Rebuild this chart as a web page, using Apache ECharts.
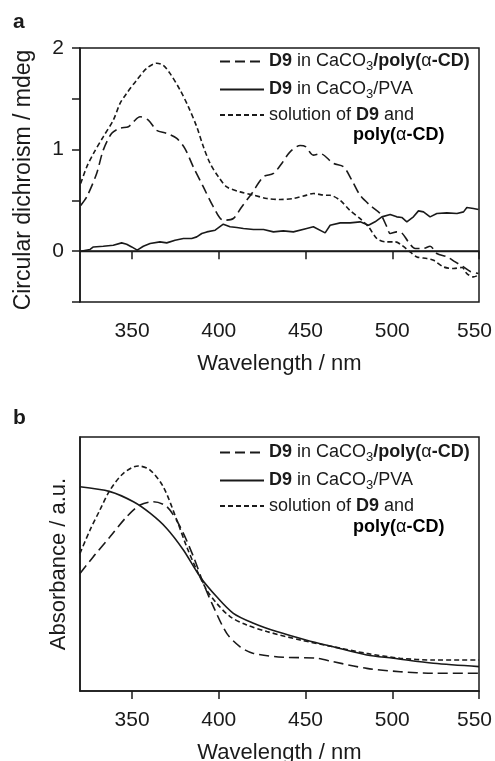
<!DOCTYPE html>
<html>
<head>
<meta charset="utf-8">
<script src="https://cdn.jsdelivr.net/npm/echarts@6/dist/echarts.min.js"></script>
<style>
html,body{margin:0;padding:0;background:#fff;}
#chart{width:495px;height:761px;}
</style>
</head>
<body>
<div id="chart"></div>
<script>
// ---------- DATA ----------
const seriesNames = ['D9 in CaCO3/poly(α-CD)', 'D9 in CaCO3/PVA', 'solution of D9 and poly(α-CD)'];
const xTicks = [350, 400, 450, 500, 550];

// Panel a: circular dichroism (mdeg)
const cdPolyWl = [320.4,323.9,329.6,333.4,338.3,343,347.9,350.8,354.6,359.4,364.2,370,375.8,380.5,385.3,391.1,396.9,402.6,408.4,413.2,419,425.7,431.5,436.3,441.1,446.9,450,454.5,458.4,466.1,471.9,476.7,481.5,487.3,493,496.9,498.8,502.6,505.5,509.3,513.2,518,521.8,525.7,531.5,536.3,541.1,545,549.7];
const cdPolyVal = [0.45,0.535,0.765,0.995,1.16,1.21,1.225,1.274,1.323,1.29,1.19,1.16,1.11,1.01,0.83,0.633,0.436,0.305,0.322,0.436,0.568,0.732,0.765,0.864,0.978,1.04,1.03,0.946,0.96,0.864,0.83,0.70,0.55,0.45,0.37,0.24,0.174,0.19,0.18,0.092,0.027,0.027,0.049,-0.023,-0.056,-0.105,-0.155,-0.2,-0.22];

const cdPvaWl = [320.4,325.8,327.7,333.4,339.2,344,346.9,349.8,353,356.5,360.4,366.1,370,374.8,379.6,384.4,387.3,390.2,393.1,397.9,402.6,406.5,410.4,414.2,420,425.8,431.5,437.2,443,450.7,454.5,461.3,464.2,470,475.7,481.5,486.3,490.1,494,498.8,502.6,505.5,508.4,512.2,515.1,518,521.8,525.7,531.5,537.3,541.1,543,546.8,549.7];
const cdPvaVal = [0.0,0.017,0.042,0.049,0.059,0.082,0.069,0.042,0.01,0.049,0.076,0.092,0.082,0.108,0.125,0.125,0.141,0.174,0.19,0.207,0.266,0.24,0.233,0.224,0.214,0.214,0.19,0.2,0.19,0.224,0.24,0.18,0.256,0.279,0.279,0.289,0.256,0.289,0.338,0.362,0.338,0.332,0.289,0.338,0.397,0.387,0.338,0.371,0.377,0.371,0.387,0.43,0.42,0.41];

const cdSolWl = [320.4,323.9,327.7,333.4,339.2,343.1,346.9,352.7,358.5,364.2,368,371.9,377.7,382.5,387.3,391.1,395,399.8,404.6,412.3,420,427.7,435.3,443,450.7,454.5,460.3,464.2,470,475.7,481.5,486.3,491.1,495.9,501.7,505.5,510.3,514.2,520,523.8,529.6,535.4,540.2,543,546.8,549.7];
const cdSolVal = [0.667,0.83,0.96,1.126,1.29,1.455,1.554,1.685,1.8,1.85,1.83,1.75,1.586,1.42,1.225,1.03,0.864,0.732,0.633,0.584,0.552,0.519,0.509,0.519,0.552,0.568,0.552,0.55,0.50,0.40,0.32,0.24,0.125,0.092,0.092,0.059,-0.007,-0.056,-0.072,-0.089,-0.155,-0.17,-0.16,-0.22,-0.253,-0.236];

// Panel b: absorbance (a.u.)
const absPolyWl = [320,327.7,337.3,346.9,354.6,362.3,370,377.7,385.4,391.1,396.9,404.6,412.3,420,437.3,456.5,466.1,485.3,504.5,523.7,550];
const absPolyVal = [0.463,0.529,0.607,0.686,0.732,0.745,0.726,0.647,0.529,0.424,0.332,0.227,0.174,0.148,0.133,0.129,0.115,0.089,0.076,0.07,0.07];

const absPvaWl = [320,337.3,350.8,360.4,370,379.6,389.2,398.8,408.4,420,433.4,450.7,466,485.3,500.7,523.7,550];
const absPvaVal = [0.804,0.785,0.745,0.70,0.64,0.555,0.45,0.371,0.306,0.267,0.234,0.20,0.174,0.142,0.129,0.109,0.096];

const absSolWl = [320,325.8,331.5,337.3,345,353.6,360.4,368,375.8,381.5,387.3,393,398.8,406.5,416.1,427.7,446.9,466.1,485.3,504.5,523.7,550];
const absSolVal = [0.542,0.634,0.713,0.791,0.857,0.886,0.87,0.804,0.673,0.568,0.476,0.398,0.345,0.293,0.26,0.234,0.201,0.174,0.148,0.129,0.122,0.122];

// ---------- CHART ----------
const FONT = '"Liberation Sans", Arial, sans-serif';
const INK = '#1a1a1a';
const pair = (xs, ys) => xs.map((x, i) => [x, ys[i]]);

const lineStyles = [
  {color: INK, width: 1.6, type: [10, 5]},
  {color: INK, width: 1.6, type: 'solid'},
  {color: INK, width: 1.6, type: [5, 3]}
];

const rich = {
  n: {fontSize: 18, fontFamily: FONT, color: INK, lineHeight: 20},
  b: {fontSize: 18, fontFamily: FONT, color: INK, fontWeight: 'bold', lineHeight: 20},
  g: {fontSize: 18, fontFamily: FONT, color: INK, lineHeight: 20},
  s: {fontSize: 13, fontFamily: FONT, color: INK, lineHeight: 13, padding: [10, 0, 0, 0]}
};
const legendLabel = {};
legendLabel[seriesNames[0]] = '{b|D9}{n| in CaCO}{s|3}{b|/poly(}{g|α}{b|-CD)}';
legendLabel[seriesNames[1]] = '{b|D9}{n| in CaCO}{s|3}{n|/PVA}';
legendLabel[seriesNames[2]] = '{n|solution of }{b|D9}{n| and}';

function makeLegend(top) {
  return {
    orient: 'vertical', left: 219, top: top, padding: 0, itemWidth: 44, itemHeight: 14, itemGap: 5,
    data: seriesNames, selectedMode: false,
    itemStyle: {opacity: 0},
    formatter: name => legendLabel[name],
    textStyle: {fontSize: 18, fontFamily: FONT, color: INK, rich: rich}
  };
}

function xAxis(gridIndex, labelMargin, nameGap) {
  return {
    gridIndex: gridIndex, type: 'value', min: 320, max: 550,
    axisLine: {show: true, lineStyle: {color: INK, width: 1.5}},
    axisTick: {show: true, length: 8, customValues: xTicks, lineStyle: {color: INK, width: 1.5}},
    axisLabel: {customValues: xTicks, fontSize: 21, fontFamily: FONT, color: INK, margin: labelMargin,
      formatter: v => v === 550 ? '{r|550}' : String(v),
      rich: {r: {fontSize: 21, fontFamily: FONT, color: INK, padding: [0, 9, 0, 0]}}},
    splitLine: {show: false},
    name: 'Wavelength / nm', nameLocation: 'middle', nameGap: nameGap,
    nameTextStyle: {fontSize: 22, fontFamily: FONT, color: INK}
  };
}

function mkSeries(name, data, idx, xi, yi, extra) {
  return Object.assign({
    name: name, type: 'line', xAxisIndex: xi, yAxisIndex: yi, data: data,
    showSymbol: false, symbol: 'none', smooth: 0.3, lineStyle: lineStyles[idx],
    itemStyle: {color: INK}, animation: false, z: 3
  }, extra || {});
}

const chart = echarts.init(document.getElementById('chart'), null, {renderer: 'canvas'});
chart.setOption({
  backgroundColor: '#fff',
  animation: false,
  grid: [
    {left: 80, top: 48, width: 399, height: 254, show: true, borderColor: INK, borderWidth: 1.5, containLabel: false, outerBoundsMode: 'none'},
    {left: 80, top: 437, width: 399, height: 254, show: true, borderColor: INK, borderWidth: 1.5, containLabel: false, outerBoundsMode: 'none'}
  ],
  legend: [makeLegend(50), makeLegend(441)],
  xAxis: [xAxis(0, 19, 51), xAxis(1, 19, 51)],
  yAxis: [
    {
      gridIndex: 0, type: 'value', min: -0.5, max: 2, interval: 0.5,
      axisLine: {show: true, lineStyle: {color: INK, width: 1.5}},
      axisTick: {show: true, length: 8, lineStyle: {color: INK, width: 1.5}},
      axisLabel: {fontSize: 21, fontFamily: FONT, color: INK, margin: 16,
        formatter: v => (Math.abs(v - Math.round(v)) < 1e-9 && v >= 0) ? String(Math.round(v)) : ''},
      splitLine: {show: false},
      name: 'Circular dichroism / mdeg', nameLocation: 'middle', nameGap: 45,
      nameTextStyle: {fontSize: 23, fontFamily: FONT, color: INK, padding: [0, 10, 0, 0]}
    },
    {
      gridIndex: 1, type: 'value', min: 0, max: 1,
      axisLine: {show: true, lineStyle: {color: INK, width: 1.5}},
      axisTick: {show: false}, axisLabel: {show: false}, splitLine: {show: false},
      name: 'Absorbance / a.u.', nameLocation: 'middle', nameGap: 10,
      nameTextStyle: {fontSize: 22, fontFamily: FONT, color: INK}
    }
  ],
  graphic: [
    {type: 'text', left: 13, top: 12, style: {text: 'a', font: 'bold 21px ' + FONT, fill: INK}},
    {type: 'text', left: 13, top: 408, style: {text: 'b', font: 'bold 21px ' + FONT, fill: INK}},
    {type: 'text', left: 353, top: 126, style: {text: '{b|poly(}{g|α}{b|-CD)}', rich: rich}},
    {type: 'text', left: 353, top: 518, style: {text: '{b|poly(}{g|α}{b|-CD)}', rich: rich}}
  ],
  series: [
    mkSeries(seriesNames[0], pair(cdPolyWl, cdPolyVal), 0, 0, 0),
    mkSeries(seriesNames[1], pair(cdPvaWl, cdPvaVal), 1, 0, 0, {
      smooth: false,
      markLine: {silent: true, symbol: 'none', label: {show: false}, animation: false,
        lineStyle: {color: INK, width: 1.3, type: 'solid'}, data: [{yAxis: 0}]}
    }),
    mkSeries(seriesNames[2], pair(cdSolWl, cdSolVal), 2, 0, 0),
    mkSeries(seriesNames[0], pair(absPolyWl, absPolyVal), 0, 1, 1),
    mkSeries(seriesNames[1], pair(absPvaWl, absPvaVal), 1, 1, 1),
    mkSeries(seriesNames[2], pair(absSolWl, absSolVal), 2, 1, 1)
  ]
});
</script>
</body>
</html>
